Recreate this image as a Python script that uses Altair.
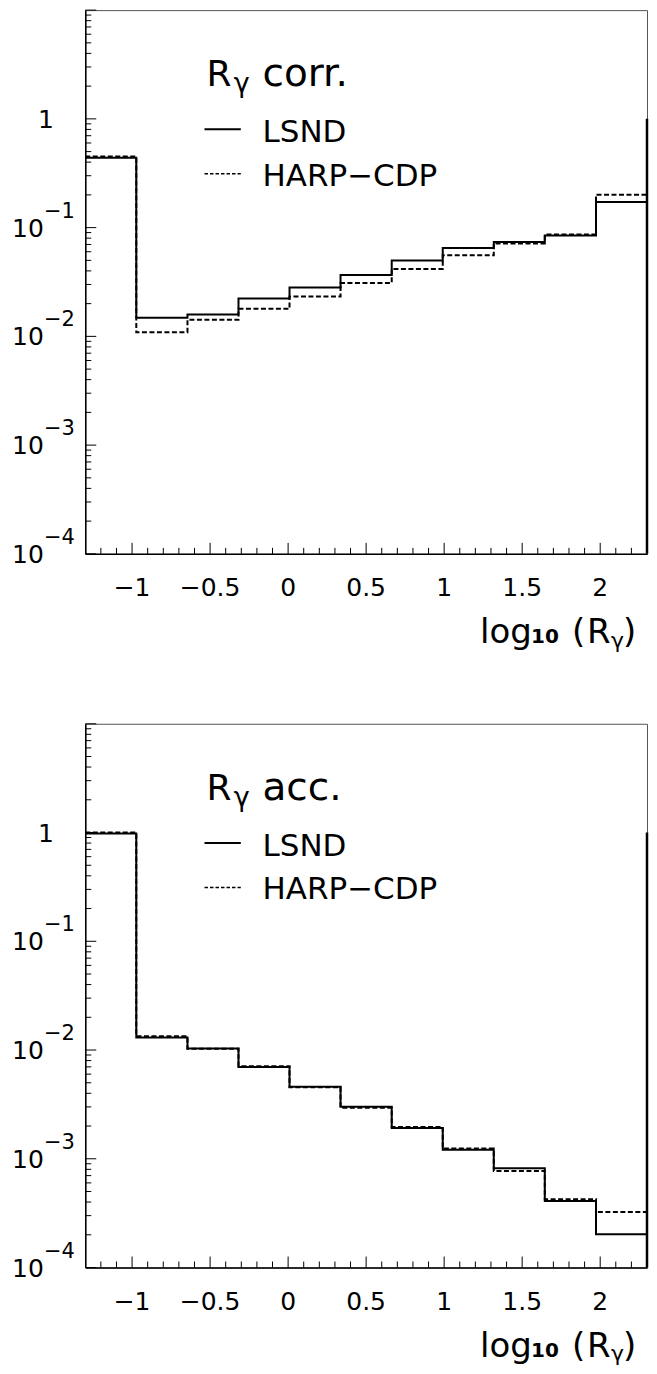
import altair as alt
import pandas as pd

# ---------------- data ----------------
edges = [-1.3, -0.973, -0.645, -0.318, 0.009, 0.336, 0.664, 0.991, 1.318, 1.645, 1.973, 2.3]

corr_lsnd = [0.44, 0.0148, 0.0159, 0.0223, 0.0282, 0.0367, 0.0498, 0.065, 0.0738, 0.0845, 0.172]
corr_harp = [0.45, 0.0109, 0.0142, 0.0179, 0.0233, 0.0310, 0.0417, 0.0557, 0.0713, 0.0863, 0.201]

acc_lsnd = [0.98, 0.01305, 0.01035, 0.00697, 0.0046, 0.00301, 0.00192, 0.00121, 0.000817, 0.000409, 0.000202]
acc_harp = [1.0, 0.0134, 0.0103, 0.0071, 0.00455, 0.00295, 0.00196, 0.00124, 0.000772, 0.000424, 0.000324]

x_major = [-1, -0.5, 0, 0.5, 1, 1.5, 2]
x_major_labels = ["\u22121", "\u22120.5", "0", "0.5", "1", "1.5", "2"]
x_minor = [-1.2, -1.1, -0.9, -0.8, -0.7, -0.6, -0.4, -0.3, -0.2, -0.1,
           0.1, 0.2, 0.3, 0.4, 0.6, 0.7, 0.8, 0.9, 1.1, 1.2, 1.3, 1.4,
           1.6, 1.7, 1.8, 1.9, 2.1, 2.2]
y_major = [1e-4, 1e-3, 1e-2, 1e-1, 1, 10]
y_minor = [k * 10.0 ** d for d in range(-4, 1) for k in range(2, 10)]
y_pow_vals = [1e-4, 1e-3, 1e-2, 1e-1]
y_pow_exps = ["\u22124", "\u22123", "\u22122", "\u22121"]
y_one_vals = [1]
y_one_labels = ["1"]

right_edge = {"x": [2.3], "y": [1.0], "y2": [1e-4]}

W, H = 562, 544
FONT = "DejaVu Sans"

xs = alt.Scale(domain=[-1.3, 2.3], nice=False, zero=False)
ys = alt.Scale(type="log", domain=[1e-4, 10], nice=False)
xax = alt.Axis(labels=False, ticks=False, title=None, grid=False,
               domainColor="black", domainWidth=1.5)
yax = alt.Axis(labels=False, ticks=False, title=None, grid=False,
               domainColor="black", domainWidth=1.5)


def step_df(vals):
    xx = list(edges)
    yy = list(vals) + [vals[-1]]
    return pd.DataFrame({"x": xx, "y": yy})


def X(f="x"):
    return alt.X(f"{f}:Q", scale=xs, axis=xax)


def Y(f="y"):
    return alt.Y(f"{f}:Q", scale=ys, axis=yax)


def txt(s, x, y, size, align="left", weight="normal"):
    return alt.Chart(pd.DataFrame({"t": [s]})).mark_text(
        font=FONT, fontSize=size, align=align, baseline="alphabetic",
        fontWeight=weight, color="black"
    ).encode(x=alt.value(x), y=alt.value(y), text="t:N")


def panel(lsnd, harp, word):
    layers = []
    # histograms
    layers.append(alt.Chart(step_df(lsnd)).mark_line(
        interpolate="step-after", color="black", strokeWidth=2, clip=True
    ).encode(x=X(), y=Y()))
    layers.append(alt.Chart(step_df(harp)).mark_line(
        interpolate="step-after", color="black", strokeWidth=2,
        strokeDash=[5, 2.5], clip=True
    ).encode(x=X(), y=Y()))
    layers.append(alt.Chart(pd.DataFrame(right_edge)).mark_rule(
        color="black", strokeWidth=2.5
    ).encode(x=X(), y=Y(), y2="y2:Q"))
    # x ticks (inward)
    layers.append(alt.Chart(pd.DataFrame({"x": x_major})).mark_rule(
        color="black", strokeWidth=1
    ).encode(x=X(), y=alt.value(H), y2=alt.value(H - 11)))
    layers.append(alt.Chart(pd.DataFrame({"x": x_minor})).mark_rule(
        color="black", strokeWidth=1
    ).encode(x=X(), y=alt.value(H), y2=alt.value(H - 6)))
    # y ticks (inward)
    layers.append(alt.Chart(pd.DataFrame({"y": y_major})).mark_rule(
        color="black", strokeWidth=1
    ).encode(y=Y(), x=alt.value(0), x2=alt.value(11)))
    layers.append(alt.Chart(pd.DataFrame({"y": y_minor})).mark_rule(
        color="black", strokeWidth=1
    ).encode(y=Y(), x=alt.value(0), x2=alt.value(6)))
    # x tick labels
    layers.append(alt.Chart(pd.DataFrame({"x": x_major, "lab": x_major_labels})).mark_text(
        font=FONT, fontSize=25, align="center", baseline="alphabetic", color="black"
    ).encode(x=X(), y=alt.value(H + 42.4), text="lab:N"))
    # y tick labels: 10^k
    ydf = pd.DataFrame({"y": y_pow_vals, "ten": ["10"] * len(y_pow_vals), "e": y_pow_exps})
    layers.append(alt.Chart(ydf).mark_text(
        font=FONT, fontSize=25, align="right", baseline="alphabetic", dy=9, color="black"
    ).encode(y=Y(), x=alt.value(-41.4), text="ten:N"))
    layers.append(alt.Chart(ydf).mark_text(
        font=FONT, fontSize=21, align="left", baseline="alphabetic", dy=-10, color="black"
    ).encode(y=Y(), x=alt.value(-41.4), text="e:N"))
    layers.append(alt.Chart(pd.DataFrame({"y": y_one_vals, "lab": y_one_labels})).mark_text(
        font=FONT, fontSize=25, align="center", baseline="alphabetic", dy=9, color="black"
    ).encode(y=Y(), x=alt.value(-39.4), text="lab:N"))
    # title inside plot
    layers.append(txt("R", 121.4, 76, 36))
    layers.append(txt("\u03b3", 148.5, 82, 27))
    layers.append(txt(word, 177.3, 76, 39))
    # legend
    layers.append(alt.Chart(pd.DataFrame({"s": ["LSND"]})).mark_rule(
        color="black", strokeWidth=2
    ).encode(x=alt.value(119.3), x2=alt.value(155.6), y=alt.value(119.3)))
    layers.append(alt.Chart(pd.DataFrame({"s": ["HARP-CDP"]})).mark_rule(
        color="black", strokeWidth=1.5, strokeDash=[3.5, 2]
    ).encode(x=alt.value(119.3), x2=alt.value(155.6), y=alt.value(163.7)))
    layers.append(txt("LSND", 177.3, 132.4, 31))
    layers.append(txt("HARP\u2212CDP", 177.3, 175.7, 31))
    # x axis title: log10 (R_gamma)
    layers.append(txt("log", 395, H + 89.5, 34))
    layers.append(txt("10", 446, H + 89.5, 20, weight="bold"))
    layers.append(txt("(", 487, H + 89.5, 34))
    layers.append(txt("R", 502, H + 89.5, 34))
    layers.append(txt("\u03b3", 526, H + 94, 22))
    layers.append(txt(")", 538, H + 89.5, 34))
    return alt.layer(*layers).properties(width=W, height=H)


top = panel(corr_lsnd, corr_harp, "corr.")
bottom = panel(acc_lsnd, acc_harp, "acc.")

chart = alt.vconcat(top, bottom, spacing=170, bounds="flush").properties(
    padding={"left": 3.3, "top": 0.8, "right": 0, "bottom": 0}
).configure_view(stroke="#555555", strokeWidth=1)

chart.save("out.html", embed_options={"renderer": "svg", "actions": False})
